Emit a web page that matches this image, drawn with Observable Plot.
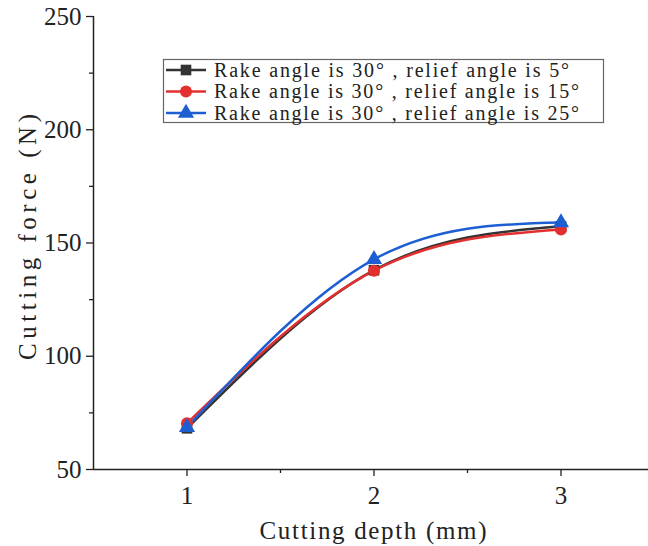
<!DOCTYPE html>
<html>
<head>
<meta charset="utf-8">
<script src="https://cdn.jsdelivr.net/npm/d3@7"></script>
<script src="https://cdn.jsdelivr.net/npm/@observablehq/plot@0.6"></script>
<style>
  body { margin: 0; background: white; }
  #wrap { position: relative; width: 648px; height: 546px; overflow: hidden; }
</style>
</head>
<body>
<div id="wrap"></div>
<script>
const depth = [1, 2, 3];
const force5 = [68.2, 138.0, 157.4];
const force15 = [70.4, 137.8, 156.0];
const force25 = [68.6, 142.8, 159.0];
const seriesNames = [
  "Rake angle is 30° , relief angle is 5°",
  "Rake angle is 30° , relief angle is 15°",
  "Rake angle is 30° , relief angle is 25°"
];
const colors = ["#333333", "#E3302F", "#1D5FD3"];
const symbols = ["square", "circle", "triangle"];
const yTicks = [50, 100, 150, 200, 250];
const yMinor = [75, 125, 175, 225];
const xTicks = [1, 2, 3];
const xMinor = [1.5, 2.5];
const xTitle = "Cutting depth (mm)";
const yTitle = "Cutting force (N)";

const allForces = [force5, force15, force25];
const rows = [];
allForces.forEach((arr, i) => arr.forEach((v, j) => rows.push({depth: depth[j], force: v, series: seriesNames[i]})));

const tickFont = {fontFamily: "Liberation Serif", fontSize: 25, fill: "#222"};

const plot = Plot.plot({
  width: 648,
  height: 546,
  marginLeft: 93,
  marginTop: 16,
  marginBottom: 77,
  marginRight: 0,
  style: {background: "white", color: "#222"},
  x: {domain: [0.5, 3.468]},
  y: {domain: [50, 250]},
  color: {domain: seriesNames, range: colors},
  symbol: {domain: seriesNames, range: symbols},
  marks: [
    Plot.axisY({ticks: yTicks, tickSize: 7, tickPadding: 5, ...tickFont, label: null, strokeWidth: 1.3}),
    Plot.axisY({ticks: yMinor, tickSize: 4, text: null, label: null, strokeWidth: 1.3}),
    Plot.axisX({ticks: xTicks, tickFormat: "d", tickSize: 7, tickPadding: 10, ...tickFont, label: null, strokeWidth: 1.3}),
    Plot.axisX({ticks: xMinor, tickSize: 4, text: null, label: null, strokeWidth: 1.3}),
    Plot.ruleX([0.5], {stroke: "#222", strokeWidth: 1.5}),
    Plot.ruleY([50], {stroke: "#222", strokeWidth: 1.5}),
    Plot.line(rows, {x: "depth", y: "force", stroke: "series", z: "series", curve: "natural", strokeWidth: 2.5}),
    Plot.dot(rows, {x: "depth", y: "force", fill: "series", symbol: "series", r: 6, stroke: null})
  ]
});

const wrap = document.getElementById("wrap");
wrap.appendChild(plot);

const svg = d3.select(plot);
const serif = "Liberation Serif";
svg.append("text")
  .attr("x", 373).attr("y", 539)
  .attr("text-anchor", "middle")
  .attr("font-family", serif).attr("font-size", 25).attr("fill", "#222")
  .attr("textLength", 227).attr("lengthAdjust", "spacing")
  .text(xTitle);
svg.append("text")
  .attr("transform", `translate(36, 237) rotate(-90)`)
  .attr("text-anchor", "middle")
  .attr("font-family", serif).attr("font-size", 25).attr("fill", "#222")
  .attr("textLength", 246).attr("lengthAdjust", "spacing")
  .text(yTitle);

// legend
const lg = svg.append("g").attr("transform", "translate(163,59)");
lg.append("rect").attr("x", 0.5).attr("y", 0.5).attr("width", 440).attr("height", 63)
  .attr("fill", "white").attr("stroke", "#666").attr("stroke-width", 1.2);
seriesNames.forEach((name, i) => {
  const cy = 11 + i * 21.5;
  lg.append("line").attr("x1", 3).attr("x2", 43).attr("y1", cy).attr("y2", cy)
    .attr("stroke", colors[i]).attr("stroke-width", 2.5);
  const sym = d3.symbol().type([d3.symbolSquare, d3.symbolCircle, d3.symbolTriangle][i]).size(Math.PI * 36);
  lg.append("path").attr("d", sym()).attr("transform", `translate(23,${cy})`).attr("fill", colors[i]);
  lg.append("text").attr("x", 51).attr("y", cy + 6.5)
    .attr("text-anchor", "start")
    .attr("font-family", serif).attr("font-size", 20).attr("fill", "#222")
    .attr("textLength", i === 0 ? 355 : 365).attr("lengthAdjust", "spacing")
    .text(name);
});
</script>
</body>
</html>
